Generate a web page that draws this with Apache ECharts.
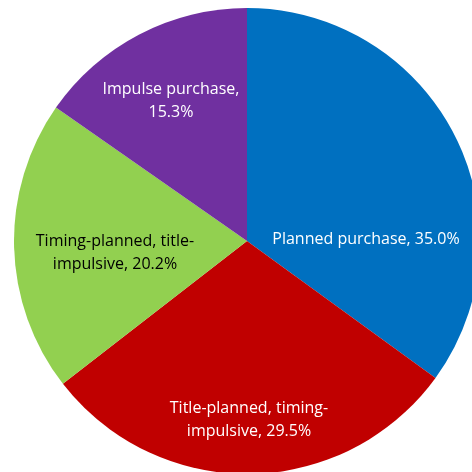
<!DOCTYPE html>
<html>
<head>
<meta charset="utf-8">
<script src="https://cdn.jsdelivr.net/npm/echarts@6/dist/echarts.min.js"></script>
<style>
  html, body { margin: 0; padding: 0; background: #ffffff; }
  #chart { width: 472px; height: 472px; }
</style>
</head>
<body>
<div id="chart"></div>
<script>
// Purchase types, clockwise from 12 o'clock
const categories = [
  'Planned purchase',
  'Title-planned, timing-impulsive',
  'Timing-planned, title-impulsive',
  'Impulse purchase'
];
const shares = [35.0, 29.5, 20.2, 15.3];
const sliceColors = ['#0070C0', '#C00000', '#92D050', '#7030A0'];
const labelColors = ['#ffffff', '#ffffff', '#000000', '#ffffff'];
// text after which each label wraps to a second line (null = single line)
const wrapAfter = [null, 'timing-', 'title-', 'purchase,'];
// label centres inside each slice, in pixels
const labelCenters = [[366, 239], [249, 420], [115, 253], [171, 101]];

function labelText(i) {
  const full = categories[i] + ', ' + shares[i].toFixed(1) + '%';
  const w = wrapAfter[i];
  if (!w) return full;
  const k = full.indexOf(w) + w.length;
  return full.slice(0, k) + '\n' + full.slice(k).trim();
}

const chart = echarts.init(document.getElementById('chart'), null, { renderer: 'canvas' });
chart.setOption({
  animation: false,
  backgroundColor: '#ffffff',
  series: [{
    type: 'pie',
    center: [247, 241],
    radius: 233,
    startAngle: 90,
    clockwise: true,
    avoidLabelOverlap: false,
    silent: true,
    itemStyle: { borderWidth: 0 },
    label: {
      show: true,
      position: 'inside',
      fontFamily: '"Open Sans", sans-serif',
      fontSize: 16,
      lineHeight: 23,
      align: 'center',
      verticalAlign: 'middle',
      formatter: p => labelText(p.dataIndex)
    },
    labelLine: { show: false },
    labelLayout: p => ({
      x: labelCenters[p.dataIndex][0],
      y: labelCenters[p.dataIndex][1],
      align: 'center',
      verticalAlign: 'middle'
    }),
    data: categories.map((name, i) => ({
      name: name,
      value: shares[i],
      itemStyle: { color: sliceColors[i] },
      label: { color: labelColors[i] }
    }))
  }]
});
</script>
</body>
</html>
